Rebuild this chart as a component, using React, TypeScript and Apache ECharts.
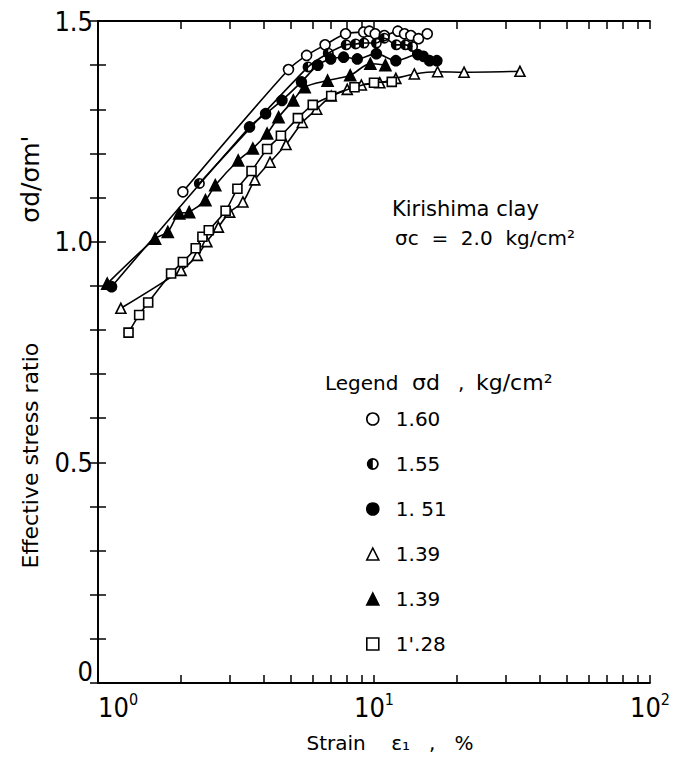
import React, { useEffect, useRef } from 'react';
import * as echarts from 'echarts';

// ---- data (strain %, effective stress ratio) ----
const strain160 = [2.03, 4.9, 5.7, 6.65, 7.89, 9.17, 9.62, 10.1, 10.9, 12.2, 12.9, 13.6, 14.5, 15.6];
const ratio160 = [1.113, 1.39, 1.422, 1.446, 1.471, 1.475, 1.477, 1.471, 1.467, 1.477, 1.471, 1.467, 1.46, 1.471];

const strain155 = [2.33, 5.77, 6.83, 7.93, 8.58, 9.2, 10.2, 10.9, 12.05, 13.0, 13.8];
const ratio155 = [1.132, 1.396, 1.427, 1.446, 1.448, 1.45, 1.45, 1.461, 1.446, 1.446, 1.442];

const strain151 = [1.12, 3.54, 4.05, 4.64, 5.46, 6.26, 6.97, 7.76, 8.7, 10.2, 12.0, 14.4, 15.1, 15.9, 16.9];
const ratio151 = [0.898, 1.26, 1.29, 1.32, 1.362, 1.4, 1.414, 1.418, 1.414, 1.426, 1.41, 1.424, 1.42, 1.41, 1.41];

const strain139a = [1.21, 2.0, 2.29, 2.48, 2.73, 3.0, 3.35, 3.7, 4.2, 4.8, 5.5, 6.2, 7.0, 8.0, 9.0, 10.5, 12.0, 14.0, 17.0, 21.2, 33.8];
const ratio139a = [0.849, 0.935, 0.969, 1.0, 1.033, 1.067, 1.09, 1.14, 1.18, 1.22, 1.27, 1.3, 1.33, 1.345, 1.355, 1.36, 1.37, 1.38, 1.385, 1.384, 1.386];

const strain139b = [1.08, 1.61, 1.79, 1.97, 2.14, 2.45, 2.66, 3.22, 3.64, 4.1, 4.51, 5.1, 5.61, 6.79, 8.2, 9.7, 11.0];
const ratio139b = [0.905, 1.007, 1.022, 1.064, 1.067, 1.094, 1.128, 1.184, 1.211, 1.245, 1.282, 1.32, 1.35, 1.365, 1.377, 1.403, 1.4];

const strain128 = [1.29, 1.41, 1.52, 1.84, 2.03, 2.26, 2.39, 2.52, 2.9, 3.2, 3.6, 4.1, 4.6, 5.3, 6.0, 7.0, 8.5, 10.0, 11.6];
const ratio128 = [0.794, 0.834, 0.862, 0.928, 0.954, 0.985, 1.011, 1.026, 1.07, 1.12, 1.16, 1.21, 1.24, 1.28, 1.31, 1.33, 1.35, 1.36, 1.362];

const seriesNames = ['s160', 's155', 's151', 's139a', 's139b', 's128'];
const legendLabels = ['1.60', '1.55', '1. 51', '1.39', '1.39', "1'.28"];
const xMinorTicks = [1, 2, 3, 4, 5, 6, 7, 8, 9, 10, 20, 30, 40, 50, 60, 70, 80, 90, 100];
const xLabelSup: Record<number, string> = { 1: '0', 10: '1', 100: '2' };

const HALF_CIRCLE =
  'path://M0,-10A10,10,0,1,1,0,10A10,10,0,1,1,0,-10Z M0,-7A7,7,0,1,0,0,7A7,7,0,1,0,0,-7Z M0,-7A7,7,0,0,0,0,7Z';

const FONT = "'DejaVu Sans', sans-serif";
const NUMFONT = "'Liberation Sans Narrow', 'DejaVu Sans Condensed', 'DejaVu Sans', sans-serif";

export default function App() {
  const ref = useRef<HTMLDivElement>(null);
  useEffect(() => {
    document.body.style.margin = '0';
    const chart = echarts.init(ref.current!, null, { renderer: 'svg' });

    const styles = [
      { symbol: 'circle', fill: '#fff', bw: 1.6, size: 10 },
      { symbol: HALF_CIRCLE, fill: '#000', bw: 0, size: 11 },
      { symbol: 'circle', fill: '#000', bw: 1.6, size: 10 },
      { symbol: 'triangle', fill: '#fff', bw: 1.6, size: 10 },
      { symbol: 'triangle', fill: '#000', bw: 1.6, size: 11 },
      { symbol: 'rect', fill: '#fff', bw: 1.6, size: 9 },
    ];
    const xs = [strain160, strain155, strain151, strain139a, strain139b, strain128];
    const ys = [ratio160, ratio155, ratio151, ratio139a, ratio139b, ratio128];

    const series = seriesNames.map((name, k) => ({
      type: 'line',
      name,
      xAxisIndex: 0,
      yAxisIndex: 0,
      data: xs[k].map((x, i) => [x, ys[k][i]]),
      symbol: styles[k].symbol,
      symbolSize: styles[k].size,
      smooth: 0.3,
      lineStyle: { color: '#000', width: 1.6 },
      itemStyle: { color: styles[k].fill, borderColor: '#000', borderWidth: styles[k].bw },
      z: 2 + k,
    }));

    const tickCommon = { inside: true, length: 8, lineStyle: { color: '#000', width: 1.5 } };

    chart.setOption({
      animation: false,
      backgroundColor: '#fff',
      grid: { left: 98, right: 11, top: 21, bottom: 82 },
      xAxis: [
        {
          type: 'log',
          logBase: 10,
          min: 1,
          max: 100,
          position: 'bottom',
          axisLine: { show: true, lineStyle: { color: '#000', width: 1.8 } },
          axisTick: { show: false },
          splitLine: { show: false },
          axisLabel: {
            margin: 8,
            alignMinLabel: 'left',
            formatter: (v: number) => `{b|10}{s|${xLabelSup[Math.round(v)] ?? ''}}`,
            rich: {
              b: { fontSize: 27, fontFamily: NUMFONT, color: '#000' },
              s: { fontSize: 16, fontFamily: NUMFONT, color: '#000', padding: [0, 0, 16, 0] },
            },
          },
          name: 'Strain    ε\u2081   ,   %',
          nameLocation: 'middle',
          nameGap: 50,
          nameTextStyle: { fontSize: 20, fontFamily: FONT, color: '#000', padding: [0, 0, 0, 32] },
        },
        {
          type: 'value',
          min: 0,
          max: 2,
          position: 'bottom',
          axisLine: { show: false },
          axisTick: { ...tickCommon, customValues: xMinorTicks.map((v) => Math.log10(v)) },
          axisLabel: { show: false },
          splitLine: { show: false },
        },
        {
          type: 'value',
          min: 0,
          max: 2,
          position: 'top',
          axisLine: { show: true, lineStyle: { color: '#000', width: 1.8 } },
          axisTick: { ...tickCommon, customValues: xMinorTicks.map((v) => Math.log10(v)) },
          axisLabel: { show: false },
          splitLine: { show: false },
        },
      ],
      yAxis: [
        {
          type: 'value',
          min: 0,
          max: 1.5,
          interval: 0.1,
          position: 'left',
          axisLine: { show: true, lineStyle: { color: '#000', width: 1.8 } },
          axisTick: tickCommon,
          splitLine: { show: false },
          axisLabel: {
            margin: 5,
            fontSize: 27,
            fontFamily: NUMFONT,
            color: '#000',
            formatter: (v: number) => {
              const t = Math.round(v * 10);
              if (t % 5 !== 0) return '';
              if (t === 0) return '{z|0}';
              return (t / 10).toFixed(1);
            },
            rich: { z: { fontSize: 27, fontFamily: NUMFONT, color: '#000', padding: [0, 0, 24, 0] } },
          },
          name: "{a|Effective stress ratio}{g|}{b|σd/σm'}",
          nameLocation: 'middle',
          nameRotate: 90,
          nameGap: 52,
          nameTextStyle: {
            color: '#000',
            rich: {
              a: { fontSize: 22, fontFamily: FONT, color: '#000' },
              g: { width: 120 },
              b: { fontSize: 25, fontFamily: FONT, color: '#000' },
            },
          },
        },
        {
          type: 'value',
          min: 0,
          max: 1.5,
          interval: 0.1,
          position: 'right',
          axisLine: { show: true, lineStyle: { color: '#000', width: 1.8 } },
          axisTick: tickCommon,
          splitLine: { show: false },
          axisLabel: { show: false },
        },
      ],
      legend: {
        orient: 'vertical',
        left: 361,
        top: 404,
        itemWidth: 12,
        itemHeight: 12,
        itemGap: 25,
        selectedMode: false,
        data: seriesNames.map((n, k) => ({
          name: n,
          icon: styles[k].symbol,
          itemStyle: { color: styles[k].fill, borderColor: '#000', borderWidth: styles[k].bw },
        })),
        formatter: (n: string) => legendLabels[seriesNames.indexOf(n)],
        textStyle: { fontSize: 20, lineHeight: 20, fontFamily: FONT, color: '#000', padding: [0, 0, 0, 12] },
      },
      graphic: [
        { type: 'text', left: 392, top: 198, style: { text: 'Kirishima clay', font: `21px ${FONT}`, fill: '#000' } },
        { type: 'text', left: 395, top: 228, style: { text: 'σc  =  2.0  kg/cm²', font: `20px ${FONT}`, fill: '#000' } },
        { type: 'text', left: 325, top: 373, style: { text: 'Legend', font: `20px ${FONT}`, fill: '#000' } },
        { type: 'text', left: 412, top: 371, style: { text: 'σd', font: `22px ${FONT}`, fill: '#000' } },
        { type: 'text', left: 458, top: 373, style: { text: ',', font: `20px ${FONT}`, fill: '#000' } },
        { type: 'text', left: 476, top: 371, style: { text: 'kg/cm²', font: `22px ${FONT}`, fill: '#000' } },
      ],
      series,
    });
    return () => chart.dispose();
  }, []);
  return <div ref={ref} style={{ width: 673, height: 765 }} />;
}
